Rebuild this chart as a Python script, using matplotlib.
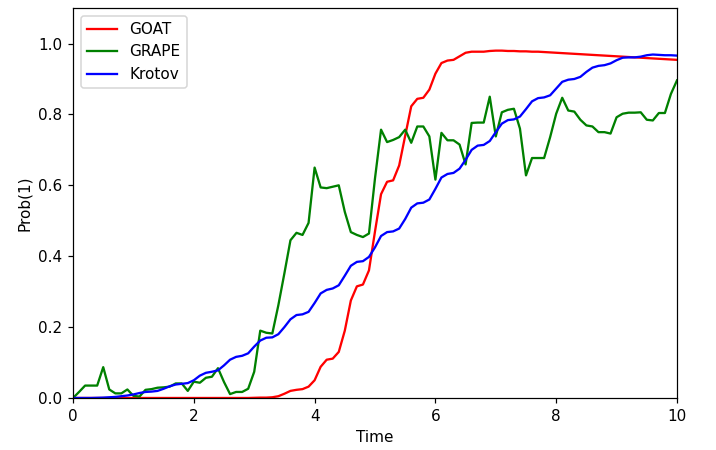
import numpy as np
import matplotlib
matplotlib.use('Agg')
import matplotlib.pyplot as plt

# time grid (step 0.1)
time = np.linspace(0, 10, 101)

goat = [0.0]*30 + [
    0.0005, 0.001, 0.001, 0.002, 0.005, 0.012, 0.020, 0.023, 0.025, 0.032,
    0.050, 0.088, 0.108, 0.111, 0.130, 0.190, 0.275, 0.315, 0.320, 0.360,
    0.470, 0.575, 0.610, 0.614, 0.656, 0.740, 0.823, 0.844, 0.847, 0.870,
    0.915, 0.945, 0.952, 0.954, 0.964, 0.974, 0.977, 0.977, 0.977, 0.979,
    0.980, 0.980, 0.979, 0.979, 0.978, 0.978, 0.977, 0.977, 0.976, 0.975,
    0.974, 0.973, 0.972, 0.971, 0.970, 0.969, 0.968, 0.967, 0.966, 0.965,
    0.964, 0.963, 0.962, 0.961, 0.960, 0.959, 0.958, 0.957, 0.956, 0.955,
    0.954]

grape = [
    0.000, 0.017, 0.035, 0.035, 0.035, 0.087, 0.024, 0.013, 0.013, 0.024,
    0.006, 0.004, 0.023, 0.025, 0.029, 0.030, 0.032, 0.041, 0.041, 0.020,
    0.046, 0.043, 0.057, 0.060, 0.084, 0.045, 0.011, 0.017, 0.017, 0.026,
    0.074, 0.190, 0.184, 0.182, 0.262, 0.352, 0.445, 0.466, 0.460, 0.494,
    0.650, 0.594, 0.592, 0.596, 0.600, 0.525, 0.468, 0.460, 0.454, 0.464,
    0.620, 0.757, 0.722, 0.728, 0.736, 0.757, 0.720, 0.766, 0.766, 0.738,
    0.616, 0.748, 0.727, 0.727, 0.715, 0.659, 0.776, 0.777, 0.777, 0.850,
    0.738, 0.806, 0.813, 0.816, 0.760, 0.628, 0.677, 0.677, 0.677, 0.736,
    0.802, 0.847, 0.811, 0.808, 0.785, 0.769, 0.766, 0.750, 0.750, 0.746,
    0.792, 0.802, 0.805, 0.805, 0.806, 0.785, 0.783, 0.804, 0.804, 0.858,
    0.896]

krotov = [
    0.0, 0.0, 0.0, 0.0, 0.0005, 0.001, 0.002, 0.003, 0.005, 0.007,
    0.010, 0.014, 0.017, 0.018, 0.020, 0.026, 0.033, 0.038, 0.040, 0.042,
    0.050, 0.063, 0.071, 0.074, 0.078, 0.092, 0.108, 0.116, 0.119, 0.126,
    0.145, 0.162, 0.170, 0.171, 0.180, 0.200, 0.222, 0.234, 0.236, 0.243,
    0.268, 0.295, 0.305, 0.309, 0.318, 0.345, 0.373, 0.384, 0.386, 0.398,
    0.425, 0.457, 0.468, 0.470, 0.478, 0.505, 0.537, 0.549, 0.551, 0.560,
    0.590, 0.622, 0.632, 0.635, 0.647, 0.672, 0.700, 0.712, 0.714, 0.725,
    0.750, 0.774, 0.784, 0.786, 0.794, 0.815, 0.837, 0.846, 0.848, 0.854,
    0.873, 0.892, 0.898, 0.900, 0.906, 0.920, 0.932, 0.937, 0.939, 0.944,
    0.953, 0.960, 0.961, 0.961, 0.963, 0.967, 0.969, 0.968, 0.967, 0.967,
    0.966]

# the reference looks rendered a bit larger than 100 dpi
fig, ax = plt.subplots(figsize=(716/110, 450/110), dpi=110)
fig.subplots_adjust(left=0.102, right=0.9455, top=0.982, bottom=0.1156)
ax.plot(time, goat, 'r', label='GOAT')
ax.plot(time, grape, 'g', label='GRAPE')
ax.plot(time, krotov, 'b', label='Krotov')
ax.set_xlim(0, 10)
ax.set_ylim(0, 1.1)
ax.set_xlabel('Time')
ax.set_ylabel('Prob(1)')
ax.legend(loc='upper left')
fig.savefig('out.png', dpi=110)
